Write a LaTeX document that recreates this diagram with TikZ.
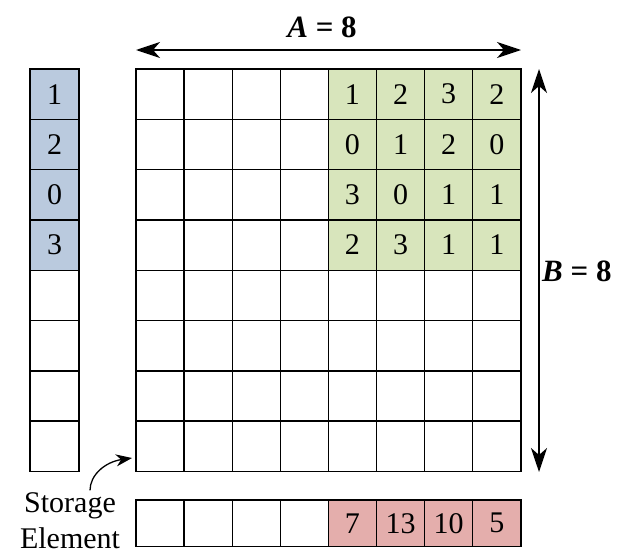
\documentclass[tikz,border=0pt]{standalone}
\usepackage{fontspec}
\setmainfont{Liberation Serif}
\usetikzlibrary{arrows.meta}
\definecolor{vecblue}{RGB}{186,202,222}
\definecolor{matgreen}{RGB}{216,229,188}
\definecolor{outred}{RGB}{228,174,172}
\tikzset{
  cell/.style={draw, line width=1.4pt, inner sep=0pt, minimum width=48.1pt, minimum height=50.3pt, font=\fontsize{30}{34}\selectfont},
  vcell/.style={cell, minimum width=49pt},
  ocell/.style={cell, minimum height=46.7pt},
  dimarrow/.style={line width=1.4pt, {Stealth[length=24pt,width=16pt,inset=7pt]}-{Stealth[length=24pt,width=16pt,inset=7pt]}},
  dimlabel/.style={font=\fontsize{31}{34}\selectfont\bfseries}
}
\begin{document}
\begin{tikzpicture}[x=1pt,y=-1pt]
\useasboundingbox (0,0) rectangle (621,554);

% main 8x8 grid
\foreach \r in {0,...,7}
  \foreach \c in {0,...,7}
    \node[cell] (g-\r-\c) at ({136+48.1*(\c+0.5)},{69+50.3*(\r+0.5)}) {};
% stored block
\foreach [count=\r from 0] \row in {{1,2,3,2},{0,1,2,0},{3,0,1,1},{2,3,1,1}}
  \foreach [count=\c from 4] \v in \row
    \node[cell, fill=matgreen] (g-\r-\c) at ({136+48.1*(\c+0.5)},{69+50.3*(\r+0.5)}) {\v};

% input vector
\foreach \r in {0,...,7}
  \node[vcell] (v-\r) at (54.5,{69+50.3*(\r+0.5)}) {};
\foreach [count=\r from 0] \v in {1,2,0,3}
  \node[vcell, fill=vecblue] (v-\r) at (54.5,{69+50.3*(\r+0.5)}) {\v};

% output row
\foreach \c in {0,...,7}
  \node[ocell] (o-\c) at ({136+48.1*(\c+0.5)},523.3) {};
\foreach [count=\c from 4] \v in {7,13,10,5}
  \node[ocell, fill=outred] (o-\c) at ({136+48.1*(\c+0.5)},523.3) {\v};

% dimensions
\coordinate (aleft) at (136,50);
\coordinate (aright) at (521,50);
\draw[dimarrow] (aleft) -- (aright);
\node[dimlabel] (alabel) at (322,27) {\textit{A} = 8};
\coordinate (btop) at (539,69);
\coordinate (bbot) at (539,472);
\draw[dimarrow] (btop) -- (bbot);
\node[dimlabel, anchor=west, inner sep=1pt] (blabel) at (541,271) {\textit{B} = 8};

% storage element
\node[align=center, font=\fontsize{30}{36}\selectfont] (store) at (70,521) {Storage\\Element};
\coordinate (storetip) at (132,458);
\draw[line width=1.3pt, -{Stealth[length=16pt,width=12pt,inset=5pt]}] ([xshift=20pt,yshift=-1pt]store.north) .. controls (90,475) and (105,462) .. (storetip);
\end{tikzpicture}
\end{document}
